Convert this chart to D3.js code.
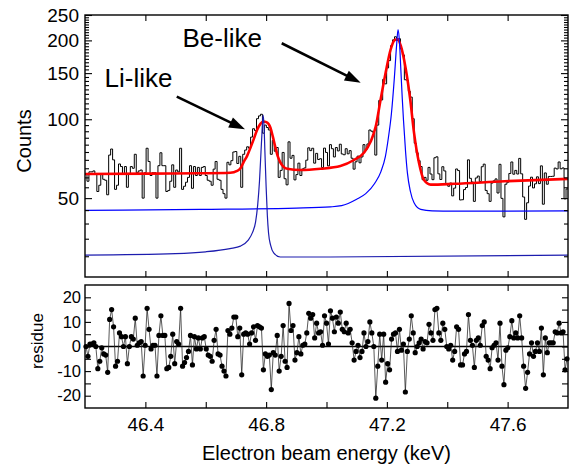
<!DOCTYPE html>
<html><head><meta charset="utf-8">
<script src="https://cdn.jsdelivr.net/npm/d3@7"></script>
<style>
html,body{margin:0;padding:0;background:#fff;}
svg{display:block;font-family:"Liberation Sans",Arial,Helvetica,sans-serif;}
</style></head><body>
<svg id="chart" width="575" height="466"></svg>
<script>
// ---------------- data ----------------
const energyRange = [46.2, 47.8];
const countRange = [25, 250];
const residueRange = [-25, 25];

// histogram counts (one per energy bin, bins evenly span energyRange)
const countsHist = [
62,58,63,63,63.5,62,53,56,61.5,59,
58.5,51.5,73,77,70,54,56,67.5,66,62,
66,55,62,66,65,73.5,62.5,63.5,64,50,
62.5,77.5,69,61,62.5,62.5,50,66.5,74.5,66.5,
66.5,53,53.5,58,67,55,64,63,77.5,54,
55.5,57.5,60,66.5,54.5,66,61,65.5,61,65.5,
66,61,58.5,58,56,64.5,69,59,58.5,54,
52,50,68.5,67,69.5,75,75.3,67.8,72.2,55,
73.5,76.3,78.5,77.5,85.5,92,90.5,100.5,103,104.5,
88.5,95,93,91,73.5,83,75.5,78,60,63.8,
74.7,59.3,56.2,82,71,72.8,58.7,61.5,68,61,
64.6,65.2,69.8,77.8,75.9,77.5,68,74.1,70.2,70.7,
65.4,77.6,74.7,66.4,80,77.2,71.8,78,75.7,80.3,
73.7,73.2,77.2,73.8,75.9,71,64.5,68.8,72.3,68.2,
71.8,80,76.3,80.5,91,90,89,73,95,118,
118.5,142,136.5,157,167.5,191,201,206.5,200,203,
185.5,176,141.5,141,128,121.5,100.5,81,74.5,69.5,
66,58.8,60,58.5,65.5,61.8,58.8,71.3,71.9,61.9,
58.9,65.9,63.5,56.5,55.5,57.1,51,54.6,64.6,63.7,
49.2,49.3,53.9,54.9,70,59.5,57.6,48.6,59.7,60.7,
57.8,65.9,67.4,53.5,52,48.6,57.1,58.2,59.2,52.3,
67.3,49.9,42.4,56.5,57.5,62.1,68.7,61.7,63.8,61.8,
70.9,61.9,50.5,41.5,48,55.6,60.1,54.7,56.7,60.3,
56.8,66.4,47.4,62.4,56.5,60.5,60.5,60.6,65.1,64.6,
68.7,64.7,65.2,49.7,54.2
];

// residue per bin
const residues = [
0,-4,1,1,1.5,0,-9,-6,-0.5,-3,
-3.5,-10.5,11,15,8,-8,-6,5.5,4,0,
4,-7,0,4,3,11.5,0.5,1.5,2,-12,
0.5,15.5,7,-1,0.5,0.5,-12,4.5,12.5,4.5,
4.5,-9,-8.5,-4,5,-7,2,1,15.5,-8,
-6.5,-4.5,-2,4.5,-7.5,4,-1,3.5,-1,3.5,
4,-1,-3.5,-4,-6,2.5,7,-3,-3.5,-8,
-10,-12,6.5,5,7.5,12,12,4,7.5,-11.5,
5,5.5,5,1,5.5,8,2.5,8.5,8,7.5,
-9.5,-3,-4,-3.5,-17.5,-2.5,-3.5,4.5,-10,-4,
8.5,-6,-8.5,17.5,6.5,8.5,-5.5,-2.5,4,-3,
0.5,1,5.5,13.5,11.5,13,3.5,9.5,5.5,6,
0.5,12.5,9.5,1,14.5,11.5,6,12,9.5,14,
7,6,9.5,5.5,7,1.5,-5.5,-2,0.5,-4.5,
-2,5.5,0,2,10,5.5,0,-21,-8,5,
-5.5,5,-14.5,-7,-9.5,3,5,5.5,-2,7,
-1.5,1,-18.5,-2,3,12.5,5.5,-2.5,0,1.5,
3,-1,2,1.5,9,5.5,2.5,15,15.5,5.5,
2.5,9.5,7,0,-1,0.5,-5.5,-2,8,7,
-7.5,-7.5,-3,-2,13,2.5,0.5,-8.5,2.5,3.5,
0.5,8.5,10,-4,-5.5,-9,-0.5,0.5,1.5,-5.5,
9.5,-8,-15.5,-1.5,-0.5,4,10.5,3.5,5.5,3.5,
12.5,3.5,-8,-17,-10.5,-3,1.5,-4,-2,1.5,
-2,7.5,-11.5,3.5,-2.5,1.5,1.5,1.5,6,5.5,
9.5,5.5,6,-9.5,-5
];

// total fit (red)
const fitEnergy = [46.200,46.416,46.582,46.681,46.704,46.715,46.725,46.737,46.748,46.759,46.770,46.781,46.791,46.801,46.814,46.822,46.831,46.839,46.847,46.857,46.870,46.914,46.980,47.046,47.091,47.124,47.146,47.163,47.179,47.196,47.212,47.226,47.235,47.246,47.262,47.277,47.290,47.306,47.323,47.345,47.423,47.589,47.800];
const fitCounts = [61.8,62.0,62.2,62.5,63.5,65.0,68.5,72.5,77.8,84,91,96,98,97.5,93,86,77.8,72,68.5,66,64.7,64.0,64.7,66.3,69.9,74.5,82,93.7,118.4,150.7,183.8,200.7,202,191,157,120,88.7,68.5,58.6,56.3,56.7,58.0,59.2];

// Be-like component (blue, upper)
const beEnergy = [46.200,46.582,46.900,47.013,47.050,47.100,47.130,47.160,47.180,47.195,47.205,47.215,47.225,47.232,47.237,47.242,47.246,47.251,47.255,47.262,47.268,47.278,47.290,47.312,47.350,47.423,47.800];
const beCounts = [44.9,45.3,45.8,46.3,46.8,49.5,52,57,63,72,85,105,145,190,220,195,157,120,99.4,75,62.4,53,48,45.3,44.7,44.6,44.7];

// Li-like component (blue, lower)
const liEnergy = [46.200,46.500,46.600,46.680,46.715,46.740,46.755,46.765,46.772,46.778,46.783,46.787,46.790,46.793,46.796,46.800,46.804,46.808,46.815,46.825,46.847,47.013,47.800];
const liCounts = [30.3,30.7,31.2,32.1,32.8,34.5,37,40.5,47,58,75,92,103.8,95,75,55.3,43,36.8,33,30.9,29.8,29.8,30.3];

// ticks
const countTicks = [50,100,150,200,250];
const countMinorTicks = [30,35,40,45,55,60,65,70,75,80,85,90,95,105,110,115,120,125,130,135,140,145,155,160,165,170,175,180,185,190,195,205,210,215,220,225,230,235,240,245];
const residueTicks = [-20,-15,-10,-5,0,5,10,15,20];
const residueLabels = [-20,-10,0,10,20];
const energyTicks = [46.4,46.6,46.8,47.0,47.2,47.4,47.6];
const energyLabels = [46.4,46.8,47.2,47.6];

// annotations [label, energy, count]
const labels = [["Li-like",46.2646,132.8],["Be-like",46.523,188.7]];
const arrows = [[[46.504,122],[46.730,91.5]],[[46.8516,195],[47.1133,137.9]]];

// ---------------- layout ----------------
const L = 85, R = 568, T1 = 15, B1 = 277, T2 = 285, B2 = 408;
const svg = d3.select("#chart");
const x = d3.scaleLinear().domain(energyRange).range([L, R]);
const yC = d3.scaleLog().domain(countRange).range([B1, T1]);
const yR = d3.scaleLinear().domain(residueRange).range([B2, T2]);

svg.append("defs").append("clipPath").attr("id","clipTop")
  .append("rect").attr("x",L).attr("y",T1).attr("width",R-L).attr("height",B1-T1);

const gTop = svg.append("g").attr("clip-path","url(#clipTop)");

// histogram
const nBins = countsHist.length;
const binW = (energyRange[1]-energyRange[0])/nBins;
const histPts = countsHist.map((c,i)=>[energyRange[0]+i*binW, c]);
histPts.push([energyRange[1], countsHist[nBins-1]]);
gTop.append("path").datum(histPts)
  .attr("d", d3.line().x(d=>x(d[0])).y(d=>yC(d[1])).curve(d3.curveStepAfter))
  .attr("fill","none").attr("stroke","#000").attr("stroke-width",1);

const smooth = d3.line().x(d=>x(d[0])).y(d=>yC(d[1])).curve(d3.curveMonotoneX);
gTop.append("path").datum(fitEnergy.map((e,i)=>[e,fitCounts[i]]))
  .attr("d", smooth).attr("fill","none").attr("stroke","#ff0000").attr("stroke-width",2.6);
gTop.append("path").datum(beEnergy.map((e,i)=>[e,beCounts[i]]))
  .attr("d", smooth).attr("fill","none").attr("stroke","#0000ff").attr("stroke-width",1.2);
gTop.append("path").datum(liEnergy.map((e,i)=>[e,liCounts[i]]))
  .attr("d", smooth).attr("fill","none").attr("stroke","#1c1cae").attr("stroke-width",1.2);

// annotations
labels.forEach(([t,e,c])=>{
  svg.append("text").attr("x",x(e)).attr("y",yC(c)).attr("font-size",26).attr("fill","#000").text(t);
});
arrows.forEach(([[e0,c0],[e1,c1]])=>{
  const x0=x(e0), y0=yC(c0), x1=x(e1), y1=yC(c1);
  const a=Math.atan2(y1-y0,x1-x0), hl=16, hw=5.5;
  const bx=x1-hl*Math.cos(a), by=y1-hl*Math.sin(a);
  svg.append("line").attr("x1",x0).attr("y1",y0).attr("x2",bx+2*Math.cos(a)).attr("y2",by+2*Math.sin(a))
    .attr("stroke","#000").attr("stroke-width",2.6);
  svg.append("polygon").attr("points",[[x1,y1],[bx+hw*Math.sin(a),by-hw*Math.cos(a)],[bx-hw*Math.sin(a),by+hw*Math.cos(a)]].map(p=>p.join(",")).join(" "))
    .attr("fill","#000");
});

// residue panel
const centers = residues.map((r,i)=>[energyRange[0]+(i+0.5)*binW, r]);
svg.append("line").attr("x1",L).attr("x2",R).attr("y1",yR(0)).attr("y2",yR(0))
  .attr("stroke","#000").attr("stroke-width",1.7);
svg.append("path").datum(centers)
  .attr("d", d3.line().x(d=>x(d[0])).y(d=>yR(d[1])))
  .attr("fill","none").attr("stroke","#222").attr("stroke-width",0.75);
svg.append("g").selectAll("circle").data(centers).join("circle")
  .attr("cx",d=>x(d[0])).attr("cy",d=>yR(d[1])).attr("r",2.6).attr("fill","#000");

// ---------------- axes ----------------
function styleAxis(g, fs){
  g.select(".domain").remove();
  g.selectAll(".tick line").attr("stroke","#000").attr("stroke-width",1.1);
  g.selectAll("text").attr("fill","#000").attr("font-size",fs).attr("font-family","Liberation Sans, Arial, sans-serif");
}
// top panel y
styleAxis(svg.append("g").attr("transform",`translate(${L},0)`)
  .call(d3.axisLeft(yC).tickValues(countMinorTicks).tickSize(-4).tickFormat("")),19);
styleAxis(svg.append("g").attr("transform",`translate(${L},0)`)
  .call(d3.axisLeft(yC).tickValues(countTicks).tickSize(-7).tickPadding(6).tickFormat(d3.format("d"))),19);
styleAxis(svg.append("g").attr("transform",`translate(${R},0)`)
  .call(d3.axisRight(yC).tickValues(countMinorTicks).tickSize(-4).tickFormat("")),19);
styleAxis(svg.append("g").attr("transform",`translate(${R},0)`)
  .call(d3.axisRight(yC).tickValues(countTicks).tickSize(-7).tickFormat("")),19);
// top panel x (no labels)
styleAxis(svg.append("g").attr("transform",`translate(0,${T1})`)
  .call(d3.axisTop(x).tickValues(energyTicks).tickSize(-6).tickFormat("")),19);
styleAxis(svg.append("g").attr("transform",`translate(0,${B1})`)
  .call(d3.axisBottom(x).tickValues(energyTicks).tickSize(-6).tickFormat("")),19);
// residue y
styleAxis(svg.append("g").attr("transform",`translate(${L},0)`)
  .call(d3.axisLeft(yR).tickValues(residueTicks).tickSize(-6).tickPadding(4)
    .tickFormat(d=>residueLabels.includes(d)?d:"")),16.5);
styleAxis(svg.append("g").attr("transform",`translate(${R},0)`)
  .call(d3.axisRight(yR).tickValues(residueTicks).tickSize(-6).tickFormat("")),16.5);
// residue x
styleAxis(svg.append("g").attr("transform",`translate(0,${T2})`)
  .call(d3.axisTop(x).tickValues(energyTicks).tickSize(-6).tickFormat("")),19);
styleAxis(svg.append("g").attr("transform",`translate(0,${B2})`)
  .call(d3.axisBottom(x).tickValues(energyTicks).tickSize(-6).tickPadding(10)
    .tickFormat(d=>energyLabels.includes(d)?d3.format(".1f")(d):"")),19);

// frames
[[T1,B1],[T2,B2]].forEach(([t,b])=>{
  svg.append("rect").attr("x",L).attr("y",t).attr("width",R-L).attr("height",b-t)
    .attr("fill","none").attr("stroke","#000").attr("stroke-width",1.4);
});

// axis titles
svg.append("text").attr("transform","translate(31,141) rotate(-90)").attr("text-anchor","middle")
  .attr("font-size",20).text("Counts");
svg.append("text").attr("transform","translate(43,341) rotate(-90)").attr("text-anchor","middle")
  .attr("font-size",17).text("residue");
svg.append("text").attr("x",(L+R)/2).attr("y",460).attr("text-anchor","middle")
  .attr("font-size",20).text("Electron beam energy (keV)");
</script>
</body></html>
